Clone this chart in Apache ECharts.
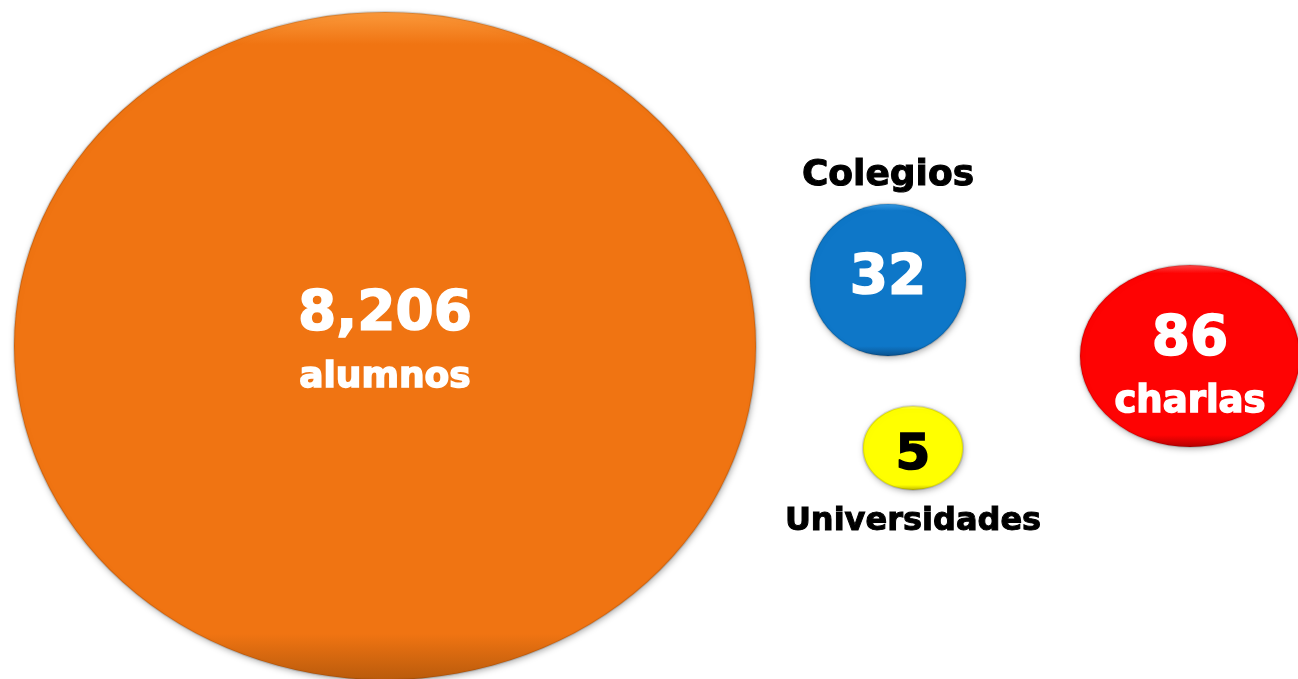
<!DOCTYPE html>
<html>
<head>
<meta charset="utf-8">
<title>Charlas</title>
<script src="https://cdn.jsdelivr.net/npm/echarts@6/dist/echarts.min.js"></script>
<style>
  html, body { margin: 0; padding: 0; background: #fff; }
  #main { width: 1298px; height: 679px; }
</style>
</head>
<body>
<div id="main"></div>
<script>
// datos
var categories = ['alumnos', 'Colegios', 'Universidades', 'charlas'];
var values = [8206, 32, 5, 86];
// donde va el nombre: dentro del globo o fuera (arriba / abajo)
var namePlace = ['inside', 'top', 'bottom', 'inside'];

// posicion y tamaño de cada globo (unidades del eje = px del lienzo)
var layout = {
  alumnos:       { x: 385,  y: 346, w: 742, h: 668, dy: 0,  fs: 36 },
  Colegios:      { x: 888,  y: 280, w: 156, h: 152, dy: -1, fs: 36 },
  Universidades: { x: 913,  y: 448, w: 100, h: 84,  dy: 8,  fs: 32 },
  charlas:       { x: 1190, y: 356, w: 220, h: 182, dy: 15, fs: 37 }
};
var colors = {
  alumnos:       ['#fb9a3c', '#f07412', '#b85a0c'],
  Colegios:      ['#3aa0ea', '#0e77c8', '#0a4f8a'],
  Universidades: ['#ffff7a', '#ffff00', '#b8b000'],
  charlas:       ['#ff5050', '#fe0303', '#b00000']
};

var ellipse = 'path://M0,50A50,50,0,1,1,100,50A50,50,0,1,1,0,50Z';
var font = '"DejaVu Sans", Arial, sans-serif';

function fill(c) {
  return new echarts.graphic.LinearGradient(0, 0, 0, 1, [
    { offset: 0, color: c[0] },
    { offset: 0.05, color: c[1] },
    { offset: 0.93, color: c[1] },
    { offset: 1, color: c[2] }
  ]);
}

function txt(color, size, lh, bw) {
  return {
    color: color, fontSize: size, fontWeight: 'bold', fontFamily: font,
    lineHeight: lh, textBorderColor: color, textBorderWidth: bw == null ? 1.5 : bw,
    textShadowBlur: 0, textShadowColor: 'transparent', opacity: 1
  };
}

var bubbleData = categories.map(function (name, i) {
  var l = layout[name];
  var inside = namePlace[i] === 'inside';
  var rich = {
    num: txt('#fff', 55, 63),
    unit: txt('#fff', l.fs, 63),
    dark: txt('#000', 50, 60)
  };
  return {
    name: name,
    value: [l.x, l.y, values[i]],
    symbolSize: [l.w, l.h],
    itemStyle: { color: fill(colors[name]) },
    label: {
      offset: [0, l.dy],
      rich: rich,
      formatter: inside
        ? '{num|' + values[i].toLocaleString('en-US') + '}\n{unit|' + name + '}'
        : '{' + (name === 'Universidades' ? 'dark' : 'num') + '|' + values[i] + '}'
    }
  };
});

var nameData = [];
categories.forEach(function (name, i) {
  if (namePlace[i] === 'inside') return;
  var l = layout[name];
  nameData.push({
    name: name,
    value: [l.x, l.y],
    symbolSize: [l.w, l.h],
    label: Object.assign(txt('#000', l.fs, l.fs + 4, 1), {
      position: namePlace[i],
      distance: namePlace[i] === 'top' ? 8 : 14,
      formatter: '{b}'
    })
  });
});

var chart = echarts.init(document.getElementById('main'));
chart.setOption({
  animation: false,
  grid: { left: 0, right: 0, top: 0, bottom: 0 },
  xAxis: { type: 'value', min: 0, max: 1298, show: false },
  yAxis: { type: 'value', min: 0, max: 679, inverse: true, show: false },
  series: [
    {
      type: 'scatter',
      symbol: ellipse,
      data: bubbleData,
      itemStyle: {
        opacity: 1,
        borderColor: 'rgba(0,0,0,0.12)',
        borderWidth: 2,
        shadowColor: 'rgba(0,0,0,0.3)',
        shadowBlur: 6,
        shadowOffsetX: 1,
        shadowOffsetY: 2
      },
      label: { show: true, position: 'inside' },
      emphasis: { disabled: true }
    },
    {
      type: 'scatter',
      symbol: ellipse,
      data: nameData,
      itemStyle: { color: 'transparent', opacity: 1 },
      label: { show: true },
      emphasis: { disabled: true },
      silent: true
    }
  ]
});
</script>
</body>
</html>
